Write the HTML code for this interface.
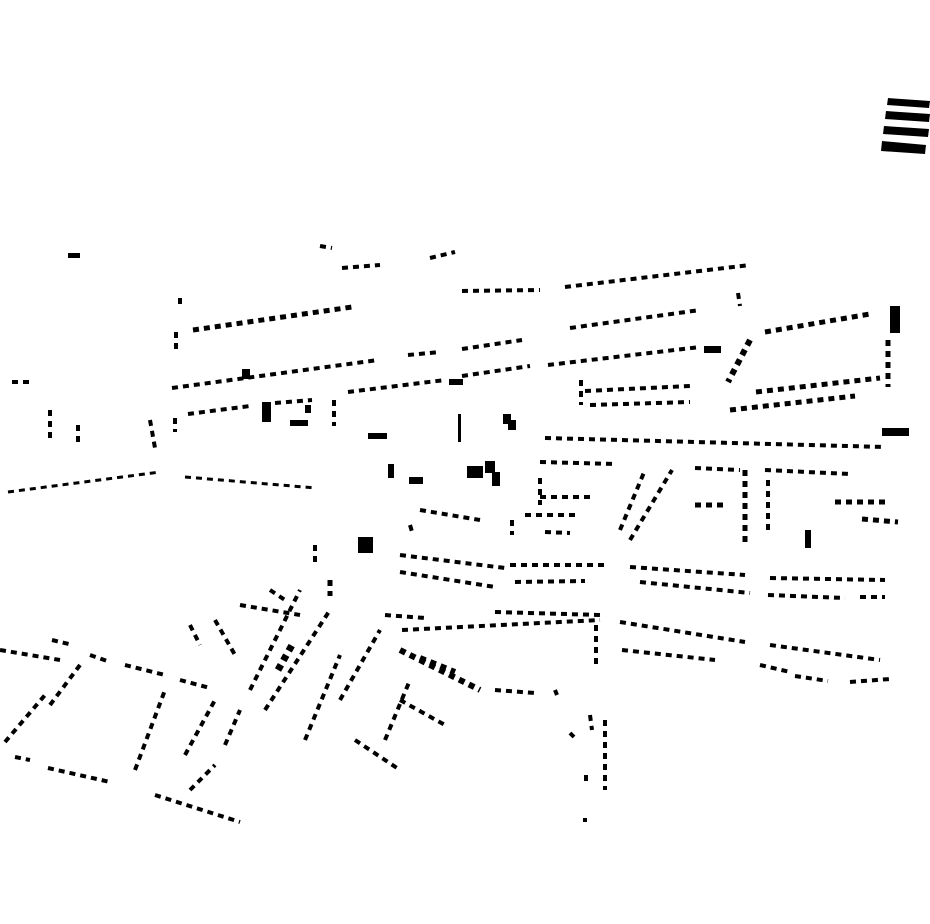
<!DOCTYPE html>
<html><head><meta charset="utf-8"><style>html,body{margin:0;padding:0;background:#fff}svg{display:block}</style></head>
<body>
<svg width="930" height="924" viewBox="0 0 930 924" xmlns="http://www.w3.org/2000/svg">
<g fill="#000">
<!-- stripes top right -->
<polygon points="888,98 930,101 929,108 887,105"/>
<polygon points="886,111 930,114 929,122 885,119"/>
<polygon points="884,126 929,129 928,137 883,134"/>
<polygon points="882,141 926,145 925,154 881,151"/>
<!-- blocks -->
<rect x="68" y="253" width="12" height="5"/>
<rect x="262" y="402" width="9" height="20"/>
<rect x="290" y="420" width="18" height="6"/>
<rect x="305" y="405" width="6" height="8"/>
<rect x="368" y="433" width="19" height="6"/>
<rect x="388" y="464" width="6" height="14"/>
<rect x="409" y="477" width="14" height="7"/>
<rect x="458" y="414" width="3" height="28"/>
<rect x="503" y="414" width="8" height="10"/>
<rect x="508" y="420" width="8" height="10"/>
<rect x="467" y="466" width="16" height="12"/>
<rect x="485" y="461" width="10" height="12"/>
<rect x="492" y="472" width="8" height="14"/>
<rect x="358" y="537" width="15" height="16"/>
<rect x="882" y="428" width="27" height="8"/>
<rect x="805" y="530" width="6" height="18"/>
<rect x="890" y="306" width="10" height="27"/>
<rect x="704" y="346" width="17" height="7"/>
<rect x="242" y="369" width="8" height="10"/>
<rect x="449" y="379" width="14" height="6"/>
</g>
<g fill="none" stroke="#000" stroke-width="4" stroke-dasharray="6 5">
<polyline points="462,291 540,290"/>
<polyline points="565,287 750,265"/>
<polyline points="193,330 352,307" stroke-width="5"/>
<polyline points="176,332 176,353"/>
<polyline points="570,328 700,310"/>
<polyline points="172,388 378,360"/>
<polyline points="408,355 440,352"/>
<polyline points="462,349 522,340"/>
<polyline points="348,392 445,380"/>
<polyline points="462,376 530,366"/>
<polyline points="548,365 700,347"/>
<polyline points="765,332 870,314" stroke-width="5"/>
<polyline points="888,340 888,387" stroke-width="5"/>
<polyline points="750,340 728,382" stroke-width="6"/>
<polyline points="585,391 690,386"/>
<polyline points="590,405 690,402"/>
<polyline points="581,380 581,405"/>
<polyline points="756,392 880,378" stroke-width="5"/>
<polyline points="730,410 855,396" stroke-width="5"/>
<polyline points="188,414 250,406"/>
<polyline points="275,403 312,400"/>
<polyline points="334,400 334,426"/>
<polyline points="545,438 885,447"/>
<polyline points="8,492 160,472" stroke-width="3"/>
<polyline points="185,477 316,488" stroke-width="3"/>
<polyline points="540,462 615,464"/>
<polyline points="540,478 540,505"/>
<polyline points="540,497 590,497"/>
<polyline points="525,515 575,515"/>
<polyline points="420,510 480,520"/>
<polyline points="512,520 512,535"/>
<polyline points="545,532 570,533"/>
<polyline points="630,540 672,470"/>
<polyline points="620,530 645,470"/>
<polyline points="695,468 740,470"/>
<polyline points="765,470 850,474"/>
<polyline points="745,470 745,545" stroke-width="5"/>
<polyline points="768,480 768,535"/>
<polyline points="835,502 885,502" stroke-width="5"/>
<polyline points="862,519 898,522" stroke-width="5"/>
<polyline points="695,505 725,505" stroke-width="5"/>
<polyline points="12,382 30,382"/>
<polyline points="50,410 50,440"/>
<polyline points="78,425 78,442"/>
<polyline points="150,420 155,448"/>
<polyline points="175,418 175,432"/>
<polyline points="180,298 180,306"/>
<polyline points="342,268 380,265"/>
<polyline points="430,258 455,252"/>
<polyline points="320,246 332,248"/>
<polyline points="738,293 740,306"/>
<polyline points="315,545 315,565"/>
<polyline points="330,580 330,596" stroke-width="5"/>
<polyline points="410,525 413,535"/>
<!-- lower left -->
<polyline points="0,650 60,660"/>
<polyline points="52,640 73,645"/>
<polyline points="90,655 110,662"/>
<polyline points="125,665 165,675"/>
<polyline points="180,680 210,688"/>
<polyline points="5,742 45,695"/>
<polyline points="50,705 80,665"/>
<polyline points="15,757 30,760"/>
<polyline points="48,768 110,782"/>
<polyline points="135,770 165,690"/>
<polyline points="155,795 240,822"/>
<polyline points="185,755 215,700"/>
<polyline points="190,790 215,765"/>
<polyline points="225,745 240,710"/>
<polyline points="250,690 300,590"/>
<polyline points="265,710 330,610"/>
<polyline points="278,670 292,645" stroke-width="7"/>
<polyline points="305,740 340,655"/>
<polyline points="240,605 300,615"/>
<polyline points="270,590 285,600"/>
<polyline points="190,625 200,645"/>
<polyline points="215,620 235,655"/>
<polyline points="340,700 380,630"/>
<polyline points="355,740 400,770"/>
<polyline points="385,740 410,680"/>
<polyline points="400,650 480,690" stroke-width="6"/>
<polyline points="420,658 455,672" stroke-width="6"/>
<polyline points="400,700 445,725"/>
<polyline points="385,615 425,618"/>
<polyline points="402,630 600,620"/>
<polyline points="495,612 600,615"/>
<polyline points="495,690 535,693"/>
<polyline points="620,622 745,642"/>
<polyline points="622,650 715,660"/>
<polyline points="770,645 880,660"/>
<polyline points="760,665 790,672"/>
<polyline points="795,676 828,681"/>
<polyline points="850,682 890,679"/>
<polyline points="596,625 596,665"/>
<polyline points="605,720 605,790"/>
<polyline points="590,715 592,730"/>
<polyline points="586,775 586,785"/>
<polyline points="570,733 574,737"/>
<polyline points="585,818 585,822"/>
<polyline points="555,690 557,695"/>
<polyline points="400,555 505,568"/>
<polyline points="510,565 605,565"/>
<polyline points="630,567 745,575"/>
<polyline points="770,578 885,580"/>
<polyline points="400,572 495,587"/>
<polyline points="515,582 585,581"/>
<polyline points="640,582 750,593"/>
<polyline points="768,595 845,598"/>
<polyline points="860,597 885,597"/>
</g>
</svg>
</body></html>
